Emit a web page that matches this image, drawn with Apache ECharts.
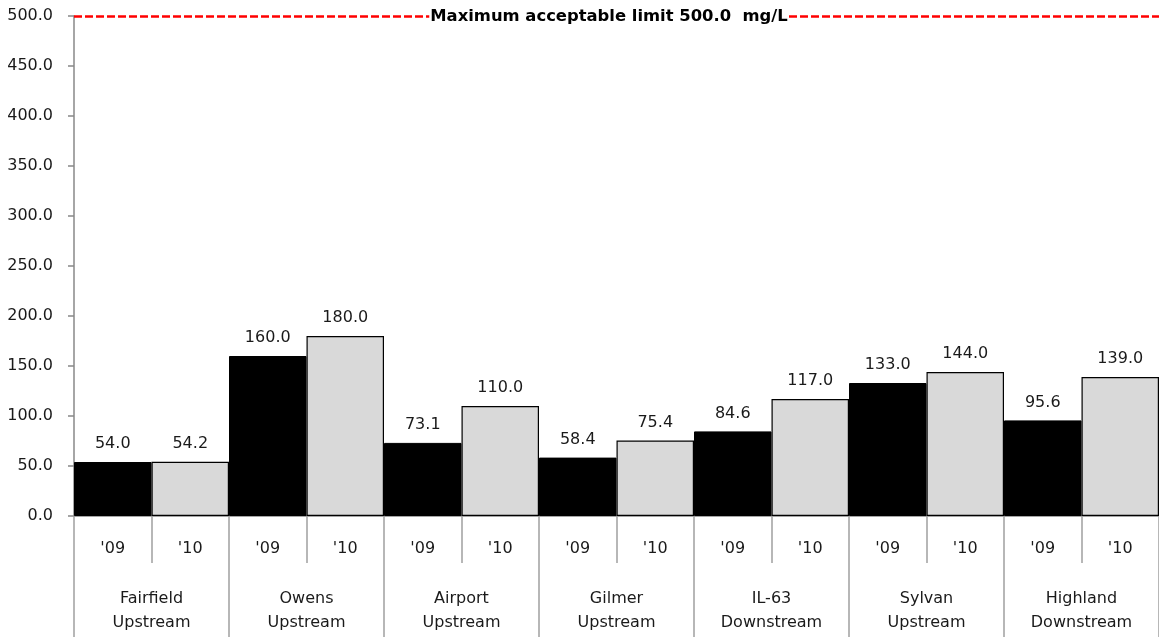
<!DOCTYPE html>
<html><head><meta charset="utf-8">
<script src="https://cdn.jsdelivr.net/npm/echarts@6/dist/echarts.min.js"></script>
<style>html,body{margin:0;padding:0;background:#fff}#c{width:1159px;height:637px}</style>
</head><body><div id="c"></div>
<script>
const sites = ['Fairfield\nUpstream','Owens\nUpstream','Airport\nUpstream','Gilmer\nUpstream','IL-63\nDownstream','Sylvan\nUpstream','Highland\nDownstream'];
const years = ["'09", "'10"];
const values09 = [54.0, 160.0, 73.1, 58.4, 84.6, 133.0, 95.6];
const values10 = [54.2, 180.0, 110.0, 75.4, 117.0, 144.0, 139.0];
const yMin = 0, yMax = 500, yInterval = 50;
const limit = 500.0;
const limitText = 'Maximum acceptable limit ' + limit.toFixed(1) + '  mg/L';

const FONT = 'DejaVu Sans';
const yearCats = [];
const barData = [];
sites.forEach((s, i) => {
  yearCats.push(years[0]);
  barData.push({value: values09[i], itemStyle: {color: '#000000', borderColor: '#000000', borderWidth: 1}});
  yearCats.push(years[1]);
  barData.push({value: values10[i], itemStyle: {color: '#d9d9d9', borderColor: '#000000', borderWidth: 1.2}});
});

const chart = echarts.init(document.getElementById('c'), null, {renderer: 'canvas'});
chart.setOption({
  animation: false,
  backgroundColor: '#ffffff',
  title: {
    text: limitText,
    left: 608, textAlign: 'center', top: 7,
    padding: [2, 1],
    backgroundColor: '#ffffff',
    textStyle: {fontFamily: FONT, fontWeight: 'bold', fontSize: 16.4, color: '#000'}
  },
  grid: {left: 74, right: 0, top: 16, bottom: 121, containLabel: false},
  xAxis: [
    {
      type: 'category', data: yearCats, position: 'bottom',
      axisLine: {show: true, lineStyle: {color: '#888888', width: 1.5}},
      axisTick: {show: true, length: 47, interval: 0, lineStyle: {color: '#a0a0a0', width: 1.5}},
      axisLabel: {interval: 0, margin: 25, fontFamily: FONT, fontSize: 16, color: '#1a1a1a'},
      splitLine: {show: false}
    },
    {
      type: 'category', data: sites, position: 'bottom', offset: 0,
      axisLine: {show: false},
      axisTick: {show: true, length: 125, interval: 0, lineStyle: {color: '#a0a0a0', width: 1.5}},
      axisLabel: {interval: 0, margin: 71, fontFamily: FONT, fontSize: 16, lineHeight: 24, color: '#1a1a1a'},
      splitLine: {show: false}
    }
  ],
  yAxis: {
    type: 'value', min: yMin, max: yMax, interval: yInterval,
    axisLine: {show: true, lineStyle: {color: '#888888', width: 1.5}},
    axisTick: {show: true, length: 6, lineStyle: {color: '#888888', width: 1.5}},
    axisLabel: {margin: 21, fontFamily: FONT, fontSize: 16, color: '#1a1a1a', formatter: v => v.toFixed(1)},
    splitLine: {show: false}
  },
  series: [{
    type: 'bar', xAxisIndex: 0, data: barData,
    barWidth: '100%', barCategoryGap: '0%',
    label: {show: true, position: 'top', distance: 10, fontFamily: FONT, fontSize: 16, color: '#1a1a1a', formatter: p => p.value.toFixed(1)},
    markLine: {
      silent: true, symbol: 'none', animation: false,
      label: {show: false},
      lineStyle: {color: '#ff0000', type: [8, 3], width: 2.5},
      data: [{yAxis: limit}]
    }
  }]
});
</script></body></html>
